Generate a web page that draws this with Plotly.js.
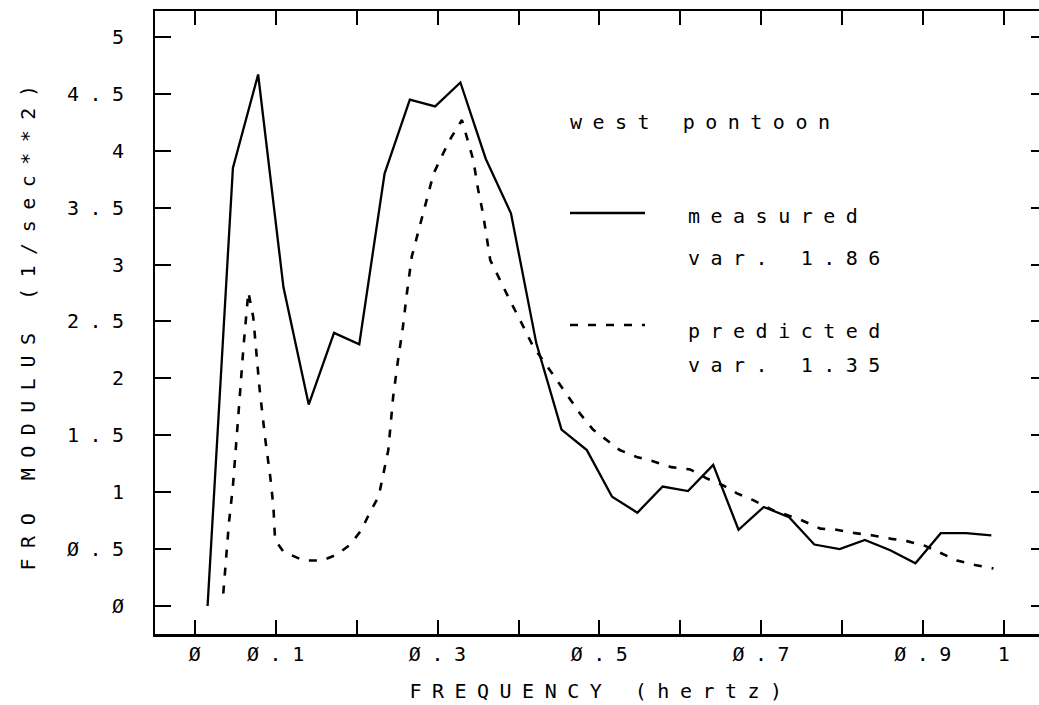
<!DOCTYPE html>
<html><head><meta charset="utf-8">
<script src="https://cdn.plot.ly/plotly-3.0.1.min.js"></script>
<style>
html,body{margin:0;padding:0;overflow:hidden;background:#fff;}
#chart{width:1060px;height:705px;}
text{letter-spacing:10.5px;}
</style></head><body><div id="chart"></div>
<script>
// measured FRO modulus (solid)
const measuredFreq = [0.0156,0.0469,0.0781,0.1094,0.1406,0.1719,0.2031,0.2344,0.2656,0.2969,0.3281,0.3594,0.3906,0.4219,0.4531,0.4844,0.5156,0.5469,0.5781,0.6094,0.6406,0.6719,0.7031,0.7344,0.7656,0.7969,0.8281,0.8594,0.8906,0.9219,0.9531,0.9844];
const measuredVal = [0,3.85,4.67,2.8,1.77,2.4,2.3,3.8,4.45,4.39,4.6,3.93,3.45,2.31,1.55,1.37,0.96,0.82,1.05,1.01,1.24,0.67,0.87,0.78,0.54,0.50,0.58,0.49,0.375,0.64,0.64,0.62];

// predicted FRO modulus (dashed)
const predictedFreq = [0.035,0.038,0.042,0.047,0.052,0.056,0.060,0.064,0.066,0.072,0.076,0.080,0.087,0.093,0.097,0.099,0.109,0.134,0.157,0.175,0.192,0.206,0.216,0.227,0.239,0.245,0.251,0.257,0.262,0.268,0.282,0.295,0.307,0.317,0.330,0.338,0.344,0.350,0.356,0.365,0.377,0.389,0.402,0.418,0.439,0.453,0.466,0.476,0.492,0.509,0.525,0.546,0.567,0.589,0.612,0.633,0.653,0.670,0.690,0.715,0.748,0.773,0.793,0.816,0.838,0.861,0.880,0.902,0.923,0.942,0.964,0.987];
const predictedVal = [0.11,0.38,0.73,1.06,1.49,1.90,2.28,2.60,2.76,2.54,2.25,1.90,1.46,1.14,0.87,0.58,0.48,0.40,0.40,0.45,0.54,0.67,0.82,0.96,1.37,1.84,2.16,2.45,2.75,3.07,3.45,3.80,3.98,4.12,4.27,4.07,3.92,3.66,3.45,3.04,2.86,2.69,2.51,2.28,2.07,1.93,1.80,1.69,1.55,1.46,1.37,1.31,1.27,1.22,1.20,1.12,1.06,0.99,0.93,0.84,0.76,0.68,0.67,0.64,0.62,0.59,0.57,0.53,0.46,0.40,0.36,0.33];

const xTickVals = [0,0.1,0.2,0.3,0.4,0.5,0.6,0.7,0.8,0.9,1];
const xTickText = ['Ø','Ø.1','','Ø.3','','Ø.5','','Ø.7','','Ø.9','1'];
const yTickVals = [0,0.5,1,1.5,2,2.5,3,3.5,4,4.5,5];
const yTickText = ['Ø','Ø.5','1','1.5','2','2.5','3','3.5','4','4.5','5'];

const legendTitle = 'west pontoon';
const seriesNames = ['measured','predicted'];
const seriesVar = ['var. 1.86','var. 1.35'];

const F = {family:'DejaVu Sans Mono, monospace', size:20, color:'#000'};

const traces = [
  {x:measuredFreq, y:measuredVal, name:seriesNames[0], mode:'lines', line:{color:'#000', width:2.3}},
  {x:predictedFreq, y:predictedVal, name:seriesNames[1], mode:'lines', line:{color:'#000', width:2.6, dash:'8px,10px'}}
];

const PL=155, PR=1047, PT=11, PB=634;
const px = v => (v-PL)/(PR-PL);
const py = v => (PB-v)/(PB-PT);

const layout = {
  width:1060, height:705,
  margin:{l:PL, r:1060-PR, t:PT, b:705-PB},
  paper_bgcolor:'#fff', plot_bgcolor:'#fff',
  showlegend:false,
  font:F,
  xaxis:{range:[-0.0494,1.0532], tickvals:xTickVals, ticktext:xTickText,
    ticks:'inside', ticklen:14, tickwidth:2, tickcolor:'#000',
    showline:true, linewidth:2.5, linecolor:'#000', mirror:'ticks',
    showgrid:false, zeroline:false, tickfont:F, ticklabelshift:5,
    title:{text:'FREQUENCY (hertz)', font:F, standoff:20}},
  yaxis:{range:[-0.246,5.228], tickvals:yTickVals, ticktext:yTickText,
    ticks:'inside', ticklen:16, tickwidth:2, tickcolor:'#000',
    showline:true, linewidth:2.5, linecolor:'#000', mirror:'ticks',
    showgrid:false, zeroline:false, tickfont:F, ticklabelstandoff:14,
    title:{text:'FRO MODULUS (1/sec**2)', font:F, standoff:26}},
  shapes:[
    {type:'line', xref:'paper', yref:'paper', x0:px(570), x1:px(645), y0:py(213), y1:py(213), line:{color:'#000', width:2.3}},
    {type:'line', xref:'paper', yref:'paper', x0:px(570), x1:px(645), y0:py(325), y1:py(325), line:{color:'#000', width:2.6, dash:'8px,10px'}}
  ],
  annotations:[
    {text:legendTitle, xref:'paper', yref:'paper', x:px(568), y:py(122), xanchor:'left', yanchor:'middle', showarrow:false, font:F},
    {text:seriesNames[0], xref:'paper', yref:'paper', x:px(686), y:py(216), xanchor:'left', yanchor:'middle', showarrow:false, font:F},
    {text:seriesVar[0], xref:'paper', yref:'paper', x:px(686), y:py(258), xanchor:'left', yanchor:'middle', showarrow:false, font:F},
    {text:seriesNames[1], xref:'paper', yref:'paper', x:px(686), y:py(331), xanchor:'left', yanchor:'middle', showarrow:false, font:F},
    {text:seriesVar[1], xref:'paper', yref:'paper', x:px(686), y:py(365), xanchor:'left', yanchor:'middle', showarrow:false, font:F}
  ]
};

Plotly.newPlot('chart', traces, layout, {displayModeBar:false, staticPlot:true});
</script></body></html>
